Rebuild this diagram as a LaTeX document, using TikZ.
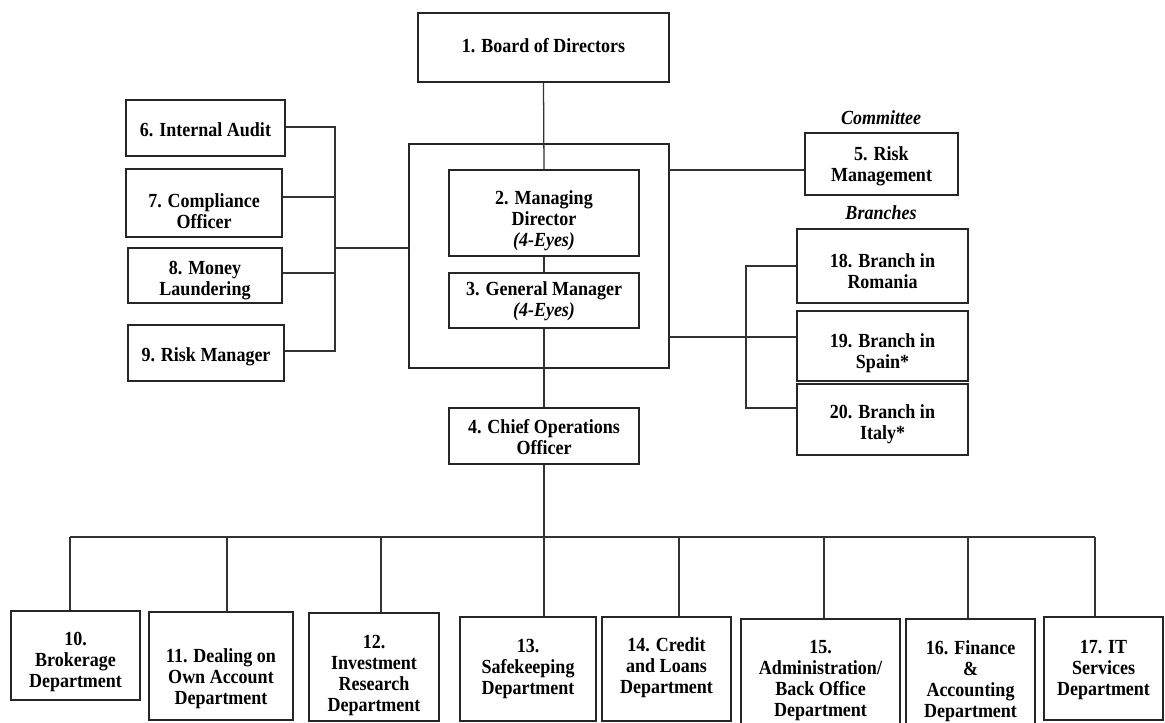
\documentclass[tikz,border=0pt]{standalone}
\usepackage{fontspec}
\setmainfont{Liberation Serif}[FakeStretch=0.9]
\newcommand\orgfont{\fontsize{15}{15.75}\selectfont\bfseries}
\tikzset{
  box/.style={draw=black!85, line width=0.95pt, fill=white, inner sep=0pt},
  frame/.style={draw=black!85, line width=0.95pt, inner sep=0pt},
  lbl/.style={font=\orgfont, align=center, inner sep=0pt},
  conn/.style={draw=black!80, line width=0.95pt},
}
\newcommand\orgbox[7]{%
  \node[box, minimum width={(#4-#2)*0.75pt}, minimum height={(#5-#3)*0.75pt}] (#1) at ({(#2+#4)/2},{(#3+#5)/2}) {};
  \node[lbl] (#1t) at ({(#2+#4)/2},#6) {#7};}
\begin{document}
\begin{tikzpicture}[x=0.75pt,y=-0.75pt]
\clip (0,0) rectangle (1165,722);
\fill[white] (0,0) rectangle (1165,722);
% frame around managing director and general manager
\node[frame, minimum width={260*0.75pt}, minimum height={224*0.75pt}] (frame) at (539,256) {};
% boxes
\orgbox{b1}{418}{13}{669}{82}{46}{1. Board of Directors}
\orgbox{b2}{449}{170}{639}{256}{221}{2. Managing\\Director\\\textit{(4-Eyes)}}
\orgbox{b3}{449}{273}{639}{328}{301}{3. General Manager\\\textit{(4-Eyes)}}
\orgbox{b4}{449}{408}{639}{464}{437}{4. Chief Operations\\Officer}
\orgbox{b5}{805}{133}{958}{195}{166}{5. Risk\\Management}
\orgbox{b6}{126}{100}{285}{156}{130}{6. Internal Audit}
\orgbox{b7}{126}{169}{282}{237}{211}{7. Compliance\\Officer}
\orgbox{b8}{128}{248}{282}{303}{281}{8. Money\\Laundering}
\orgbox{b9}{128}{325}{284}{381}{357}{9. Risk Manager}
\orgbox{b10}{11}{611}{140}{700}{662}{10.\\Brokerage\\Department}
\orgbox{b11}{149}{612}{293}{720}{679}{11. Dealing on\\Own Account\\Department}
\orgbox{b12}{309}{613}{439}{721}{675}{12.\\Investment\\Research\\Department}
\orgbox{b13}{460}{617}{596}{721}{669}{13.\\Safekeeping\\Department}
\orgbox{b14}{602}{617}{731}{721}{668}{14. Credit\\and Loans\\Department}
\orgbox{b15}{741}{619}{900}{745}{681}{15.\\Administration/\\Back Office\\Department}
\orgbox{b16}{906}{619}{1035}{745}{681}{16. Finance\\\&\\Accounting\\Department}
\orgbox{b17}{1044}{617}{1163}{720}{670}{17. IT\\Services\\Department}
\orgbox{b18}{797}{229}{968}{303}{271}{18. Branch in\\Romania}
\orgbox{b19}{797}{311}{968}{381}{353}{19. Branch in\\Spain*}
\orgbox{b20}{797}{384}{968}{455}{424}{20. Branch in\\Italy*}
% headings
\node[lbl] (hc) at (881,118) {\textit{Committee}};
\node[lbl] (hb) at (881,213) {\textit{Branches}};
% main vertical chain
\draw[conn] (b1.south) -- (b2.north);
\draw[conn] (b2.south) -- (b3.north);
\draw[conn] (b3.south) -- (b4.north);
% right side
\coordinate (r1) at (669,170);
\coordinate (r2) at (669,337);
\draw[conn] (r1) -- (r1 -| b5.west);
\draw[conn] (r2) -- (r2 -| b19.west);
\coordinate (bk1) at (746,266);
\coordinate (bk2) at (746,408);
\draw[conn] (bk1 -| b18.west) -- (bk1) -- (bk2) -- (bk2 -| b20.west);
% left side
\coordinate (l0) at (409,248);
\coordinate (lb) at (335,248);
\draw[conn] (l0) -- (lb);
\coordinate (lk6) at (335,127);
\coordinate (lk7) at (335,197);
\coordinate (lk8) at (335,273);
\coordinate (lk9) at (335,351);
\draw[conn] (lk6 -| b6.east) -- (lk6) -- (lk9) -- (lk9 -| b9.east);
\draw[conn] (lk7 -| b7.east) -- (lk7);
\draw[conn] (lk8 -| b8.east) -- (lk8);
% bottom bus
\coordinate (bus10) at (70,537);
\coordinate (bus11) at (227,537);
\coordinate (bus12) at (381,537);
\coordinate (bus13) at (544,537);
\coordinate (bus14) at (679,537);
\coordinate (bus15) at (824,537);
\coordinate (bus16) at (968,537);
\coordinate (bus17) at (1095,537);
\draw[conn] (bus10) -- (bus17);
\draw[conn] (b4.south) -- (bus13);
\foreach \i in {10,...,17} {
  \draw[conn] (bus\i) -- (bus\i |- b\i.north);
}
\end{tikzpicture}
\end{document}
